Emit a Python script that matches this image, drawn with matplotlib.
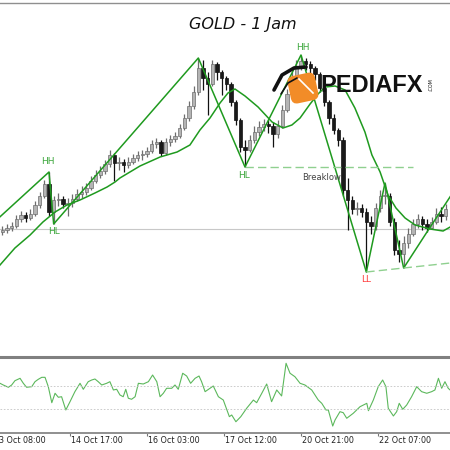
import matplotlib
matplotlib.use("Agg")
import matplotlib.pyplot as plt
from matplotlib import patches, transforms
from matplotlib.lines import Line2D

title = "GOLD - 1 Jam"

# 2-hour candles (bar i sits at hour 1 + 2*i), prices
first_open = 4036
close = [4040, 4044, 4048, 4062, 4070, 4064, 4072, 4090, 4108, 4132,
         4076, 4100, 4102, 4092, 4094, 4102, 4112, 4116, 4124, 4138,
         4150, 4158, 4172, 4190, 4174, 4176, 4170, 4176, 4184, 4190,
         4192, 4198, 4212, 4216, 4194, 4216, 4222, 4228, 4244, 4264,
         4288, 4316, 4364, 4344, 4332, 4372, 4356, 4344, 4332, 4296,
         4260, 4206, 4200, 4220, 4236, 4246, 4252, 4248, 4232, 4248,
         4280, 4312, 4344, 4368, 4378, 4372, 4364, 4352, 4324, 4296,
         4264, 4240, 4220, 4120, 4100, 4082, 4084, 4076, 4056, 4048,
         4084, 4108, 4108, 4056, 4000, 3992, 4014, 4032, 4052, 4062,
         4052, 4044, 4056, 4072, 4068, 4082]
high = [4048, 4052, 4056, 4070, 4078, 4076, 4082, 4098, 4116, 4140,
        4156, 4108, 4114, 4108, 4104, 4112, 4122, 4128, 4134, 4148,
        4160, 4168, 4180, 4200, 4194, 4186, 4182, 4186, 4192, 4198,
        4200, 4206, 4220, 4224, 4220, 4224, 4230, 4236, 4252, 4272,
        4298, 4328, 4384, 4380, 4356, 4380, 4376, 4360, 4348, 4336,
        4300, 4264, 4220, 4230, 4248, 4258, 4262, 4260, 4256, 4260,
        4290, 4322, 4356, 4380, 4390, 4384, 4378, 4368, 4356, 4328,
        4300, 4272, 4244, 4226, 4144, 4108, 4096, 4092, 4084, 4068,
        4094, 4120, 4134, 4114, 4064, 4020, 4028, 4044, 4062, 4072,
        4068, 4062, 4066, 4084, 4086, 4092]
low = [4030, 4034, 4038, 4044, 4056, 4056, 4060, 4068, 4084, 4104,
       4068, 4052, 4088, 4084, 4068, 4086, 4098, 4104, 4110, 4120,
       4134, 4144, 4152, 4166, 4138, 4160, 4156, 4164, 4172, 4178,
       4180, 4186, 4194, 4204, 4188, 4190, 4208, 4216, 4224, 4240,
       4258, 4282, 4310, 4320, 4270, 4328, 4340, 4310, 4320, 4288,
       4250, 4196, 4166, 4196, 4214, 4228, 4238, 4234, 4206, 4224,
       4244, 4276, 4304, 4336, 4360, 4360, 4352, 4340, 4316, 4288,
       4252, 4232, 4208, 4108, 4040, 4072, 4070, 4066, 3956, 4032,
       4040, 4076, 4092, 4048, 3990, 3976, 3964, 4004, 4028, 4044,
       4040, 4036, 4042, 4052, 4056, 4060]

# zigzag swing points (hour, price)
zz_t = [-9, 21, 23, 85, 105, 129, 157, 165, 173, 183, 201]
zz_p = [4028, 4156, 4052, 4384, 4166, 4390, 3956, 4134, 3964, 4036, 4164]

# moving average (hour, price)
ma_t = [0, 6.4, 12.9, 18.4, 23.6, 28.7, 34.3, 40.7, 45.9, 49.3, 51.4, 60, 68.6,
        75.9, 81.4, 85.7, 90, 94.3, 97.7, 100.7, 105, 110.6, 116.6, 121.3, 125.1,
        128.6, 132.9, 136.3, 139.3, 143.6, 147.9, 152.1, 156.4, 159.4, 162.9,
        166.3, 169.7, 173.6, 177.9, 184.3, 189.9, 193.7]
ma_p = [3970, 4004, 4030, 4056, 4076, 4090, 4100, 4114, 4126, 4136, 4144, 4168, 4186,
        4196, 4210, 4240, 4264, 4294, 4314, 4322, 4308, 4286, 4256, 4244, 4250,
        4264, 4292, 4312, 4326, 4328, 4320, 4284, 4236, 4190, 4156,
        4110, 4084, 4064, 4050, 4042, 4038, 4048]

price_line = 4042
breaklow_p = 4166
breaklow_t = [105, 177]
ll_line_t = [157, 195]
ll_line_p = [3956, 3975]

swing_labels = [("HH", 20.6, 4176, "#3aa63a"), ("HL", 23.1, 4038, "#3aa63a"),
                ("HH", 129.9, 4404, "#3aa63a"), ("HL", 104.6, 4148, "#3aa63a"),
                ("LL", 156.9, 3940, "#ff3b3b"), ("LH", 195.6, 4132, "#ff5a3a")]

# oscillator in the lower window (hour, value)
osc_t = [0, 1.4, 3.6, 5.0, 6.4, 8.6, 10.0, 11.4, 13.6, 15.0, 16.4, 17.9, 19.3, 20.7,
         22.2, 23.6, 25.0, 26.4, 28.2, 30.0, 32.1, 34.3, 35.7, 37.8, 39.3, 40.7,
         42.1, 43.6, 45.7, 47.1, 48.6, 50.0, 51.4, 52.8, 53.9, 55.0, 56.4, 57.9,
         59.3, 61.4, 63.6, 65.4, 67.2, 68.6, 70.0, 71.4, 73.6, 75.0, 76.4, 78.3,
         80.0, 81.7, 83.6, 85.3, 86.4, 87.9, 90.0, 91.4, 93.6, 95.7, 98.3, 99.3,
         101.1, 103.2, 105.7, 108.6, 110.0, 112.2, 114.3, 116.4, 118.6, 120.7,
         122.6, 124.3, 126.4, 128.6, 130.7, 133.6, 136.4, 137.9, 139.7, 140.7,
         142.6, 143.6, 145.7, 147.1, 148.6, 151.4, 154.3, 157.2, 157.9, 160.0,
         162.1, 164.0, 165.4, 166.4, 168.6, 170.0, 171.1, 172.6, 174.3, 176.4,
         178.6, 180.7, 182.9, 185.0, 186.4, 187.9, 189.3, 190.7, 192.1, 192.9]
osc_v = [63.5, 61.3, 58.3, 61.3, 66.9, 70.0, 63.5, 58.3, 59.1, 65.6, 68.7, 71.3, 71.3, 59.1,
         38.2, 50.5, 45.3, 46.0, 28.7, 39.5, 52.6, 63.5, 55.7, 65.6, 67.8, 69.1,
         65.6, 61.3, 63.5, 65.6, 54.8, 55.7, 48.3, 46.0, 55.7, 44.0, 42.7, 46.0,
         63.5, 62.6, 65.6, 74.3, 65.6, 46.0, 50.5, 57.0, 57.0, 61.3, 55.7, 76.6,
         73.0, 63.5, 70.0, 73.0, 65.6, 52.6, 57.0, 60.0, 46.0, 41.7, 20.0, 22.2,
         13.4, 20.0, 30.9, 41.7, 38.2, 50.5, 62.6, 39.5, 54.8, 47.0,
         89.6, 76.6, 72.1, 63.5, 61.3, 54.8, 41.7, 37.4, 28.7, 28.7,
         7.8, 15.7, 26.5, 25.2, 17.9, 24.4, 33.0, 37.4, 27.8, 41.7,
         59.1, 67.8, 59.1, 30.9, 20.9, 26.5, 37.4, 29.6, 35.2, 46.0,
         59.1, 52.6, 50.5, 52.6, 54.8, 70.0, 57.0, 65.6, 57.0, 54.8]
osc_levels = [60, 30]

tick_t = [-3, 30, 63, 96, 129, 162]
tick_labels = ["13 Oct 08:00", "14 Oct 17:00", "16 Oct 03:00",
               "17 Oct 12:00", "20 Oct 21:00", "22 Oct 07:00"]

green = "#1f9a1f"
light_green = "#8fd08f"

fig = plt.figure(figsize=(4.5, 4.5), dpi=100)
ax = fig.add_axes([0, 1 - 356 / 450, 1, 353 / 450])
ax2 = fig.add_axes([0, 1 - 433 / 450, 1, 76 / 450])

# candles
opens = [first_open] + close[:-1]
t_bar = [1 + 2 * i for i in range(len(close))]
for t, o, h, l, c in zip(t_bar, opens, high, low, close):
    up = c >= o
    col = "#6e6e6e" if up else "#111111"
    ax.vlines(t, l, h, color=col, lw=0.9, zorder=2)
    bot = min(o, c)
    hgt = max(abs(c - o), 1.5)
    ax.bar(t, hgt, bottom=bot, width=1.5, color="#b4b4b4" if up else "#1a1a1a",
           edgecolor=col, linewidth=0.5, zorder=3)

ax.axhline(price_line, color="#c8c8c8", lw=0.8, zorder=1)
ax.plot(ma_t, ma_p, color=green, lw=1.1, zorder=4)
ax.plot(zz_t, zz_p, color=green, lw=1.1, zorder=4)
ax.plot(breaklow_t, [breaklow_p, breaklow_p], color=light_green, lw=1.0,
        ls=(0, (6, 3)), zorder=4)
ax.plot(ll_line_t, ll_line_p, color=light_green, lw=1.0, ls=(0, (6, 3)), zorder=4)
ax.text(138, 4144, "Breaklow", fontsize=6, color="#444444", ha="center",
        va="center", zorder=5)
for lab, t, p, c in swing_labels:
    ax.text(t, p, lab, fontsize=6.5, color=c, ha="center", va="center",
            zorder=5, clip_on=False)

ax.set_xlim(0, 450 / 2.3333)
ax.set_ylim(3788, 4494)
ax.set_xticks([])
ax.set_yticks([])
for s in ["left", "right", "bottom"]:
    ax.spines[s].set_visible(False)
ax.spines["top"].set_color("#8f8f8f")
ax.spines["top"].set_linewidth(1.0)

# oscillator window
ax2.plot(osc_t, osc_v, color="#5cb85c", lw=0.8)
for lv in osc_levels:
    ax2.axhline(lv, color="#c4c4c4", lw=0.6, ls=(0, (2, 2)))
ax2.set_xlim(0, 450 / 2.3333)
ax2.set_ylim(-1.3, 97.8)
ax2.set_yticks([])
ax2.set_xticks(tick_t[1:])
ax2.tick_params(axis="x", length=2.5, width=0.8, color="#777777", labelbottom=False)
for s in ["left", "right"]:
    ax2.spines[s].set_visible(False)
ax2.spines["top"].set_color("#808080")
ax2.spines["top"].set_linewidth(2.2)
ax2.spines["bottom"].set_color("#8f8f8f")
ax2.spines["bottom"].set_linewidth(1.4)
tr = transforms.blended_transform_factory(ax2.transData, ax2.transAxes)
for t, lab in zip(tick_t, tick_labels):
    ax2.text(t + 0.5, -0.105, lab, transform=tr, fontsize=5.8, color="#222222",
             ha="left", va="center", clip_on=False)

fig.text(243 / 450, 1 - 24 / 450, title, ha="center", va="center",
         fontsize=11.5, style="italic", color="#111111")

# watermark logo
def fx(x):
    return x / 450


def fy(y):
    return 1 - y / 450


rot = transforms.Affine2D().rotate_deg_around(fx(303), fy(88), 12) + fig.transFigure
box = patches.FancyBboxPatch((fx(289), fy(102)), 0.062, 0.062,
                             boxstyle="round,pad=0,rounding_size=0.014",
                             facecolor="#f28c28", edgecolor="none", transform=rot)
fig.add_artist(box)
fig.add_artist(Line2D([fx(299), fx(313)], [fy(79), fy(93)], color="white",
                      lw=1.2, transform=fig.transFigure))
fig.add_artist(Line2D([fx(274), fx(282), fx(294), fx(306)],
                      [fy(90), fy(75), fy(68), fy(67)], color="#111111",
                      lw=2.6, solid_capstyle="round", transform=fig.transFigure))
fig.add_artist(Line2D([fx(281), fx(288), fx(297)],
                      [fy(94), fy(83), fy(78)], color="#111111",
                      lw=1.2, solid_capstyle="round", transform=fig.transFigure))
fig.text(fx(320), fy(86), "PEDIAFX", ha="left", va="center", fontsize=17,
         fontweight="bold", family="Liberation Sans", color="#111111")
fig.text(fx(431), fy(85), ".COM", ha="center", va="center", fontsize=3.5,
         rotation=90, color="#111111")

fig.savefig("out.png", dpi=100)
